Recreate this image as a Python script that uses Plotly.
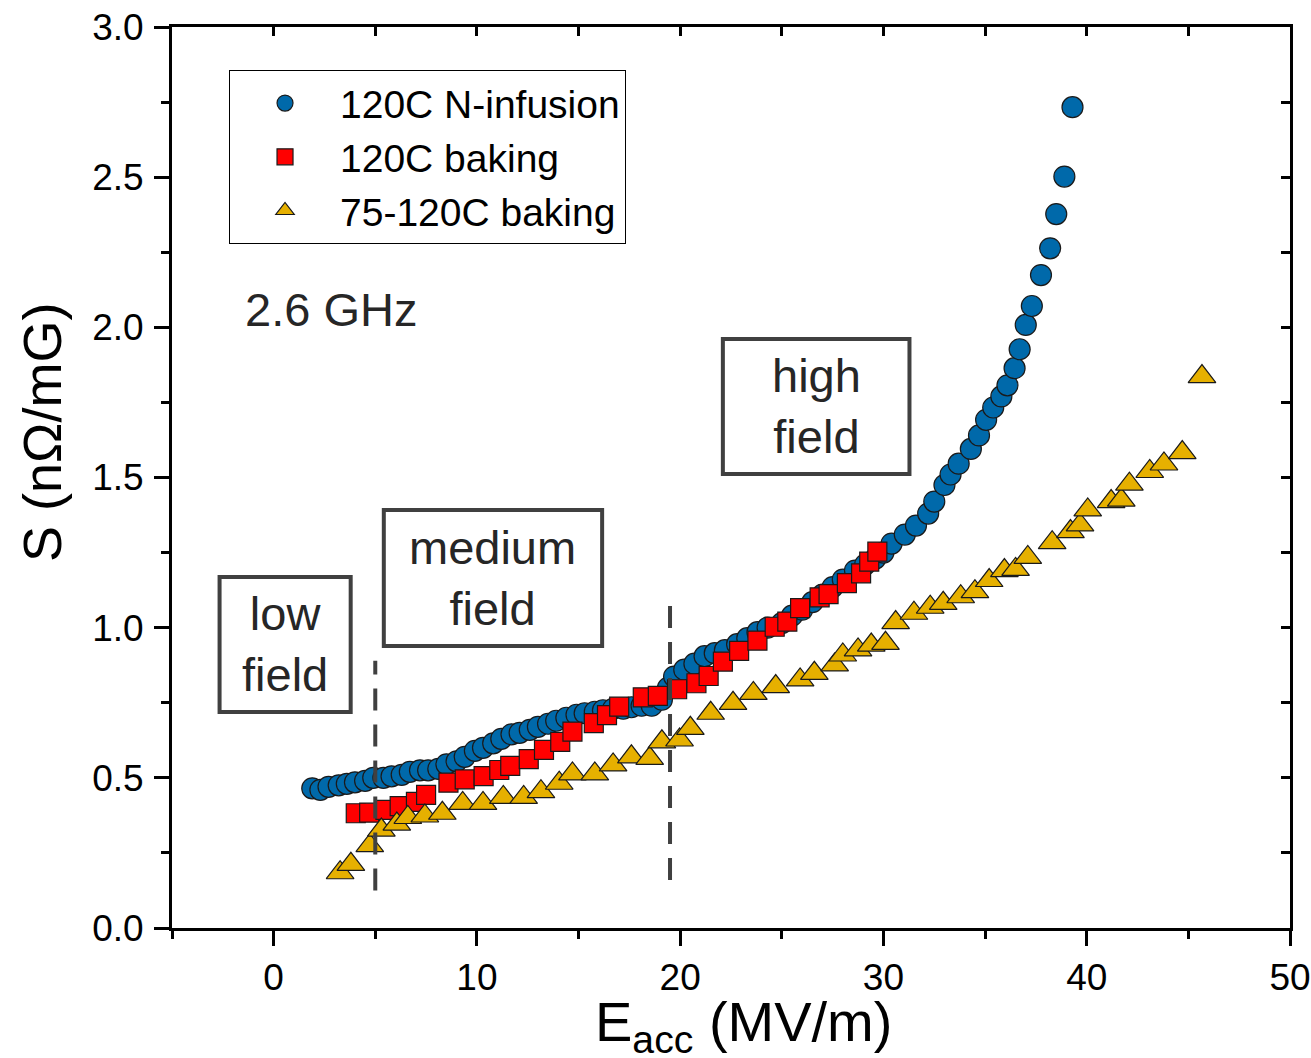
import plotly.graph_objects as go

# ---------------- data ----------------
infusion_E = [1.9, 2.3, 2.7, 3.2, 3.6, 4.0, 4.5, 4.9, 5.4, 5.8, 6.3, 6.7, 7.2, 7.6, 8.1, 8.5,
              9.0, 9.4, 9.9, 10.3, 10.8, 11.2, 11.7, 12.1, 12.6, 13.0, 13.5, 13.9, 14.4, 14.9,
              15.3, 15.8, 16.2, 16.7, 17.2, 17.6, 18.1, 18.6, 19.1, 19.4, 19.7, 20.2, 20.7,
              21.2, 21.7, 22.2, 22.8, 23.3, 23.8, 24.3, 25.0, 25.5, 26.0, 26.5, 27.0, 27.5,
              28.0, 28.6, 29.1, 29.6, 30.0, 30.4, 31.05, 31.6, 32.2, 32.5, 33.0, 33.3, 33.7,
              34.3, 34.7, 35.05, 35.4, 35.8, 36.1, 36.45, 36.7, 37.0, 37.3, 37.75, 38.2, 38.5,
              38.9, 39.3]
infusion_S = [0.465, 0.46, 0.47, 0.475, 0.48, 0.485, 0.49, 0.50, 0.50, 0.505, 0.51, 0.52, 0.525,
              0.525, 0.53, 0.545, 0.555, 0.57, 0.59, 0.60, 0.615, 0.63, 0.645, 0.65, 0.66, 0.67,
              0.68, 0.69, 0.70, 0.71, 0.715, 0.72, 0.725, 0.73, 0.73, 0.735, 0.74, 0.74, 0.76,
              0.80, 0.837, 0.86, 0.88, 0.905, 0.915, 0.925, 0.945, 0.965, 0.985, 1.0, 1.015,
              1.04, 1.06, 1.085, 1.11, 1.135, 1.16, 1.19, 1.21, 1.23, 1.25, 1.28, 1.31, 1.34,
              1.38, 1.42, 1.475, 1.51, 1.546, 1.595, 1.64, 1.692, 1.733, 1.77, 1.807, 1.864,
              1.927, 2.008, 2.071, 2.174, 2.263, 2.377, 2.502, 2.733]

baking_E = [4.04, 4.7, 5.5, 6.2, 7.0, 7.5, 8.6, 9.4, 10.33, 11.1, 11.64, 12.55, 13.3, 14.1,
            14.7, 15.75, 16.4, 17.0, 18.16, 18.9, 19.85, 20.8, 21.4, 22.1, 22.9, 23.8, 24.65,
            25.27, 25.9, 26.86, 27.3, 28.2, 28.9, 29.3, 29.7]
baking_S = [0.382, 0.384, 0.393, 0.406, 0.42, 0.443, 0.484, 0.495, 0.506, 0.526, 0.54, 0.562,
            0.593, 0.62, 0.654, 0.682, 0.709, 0.737, 0.768, 0.773, 0.795, 0.815, 0.839, 0.887,
            0.923, 0.957, 1.003, 1.02, 1.065, 1.101, 1.112, 1.148, 1.181, 1.22, 1.253]

lowbake_E = [3.27, 3.8, 4.73, 5.3, 6.06, 6.6, 7.44, 8.3, 9.3, 10.3, 11.3, 12.3, 13.15, 14.05,
             14.7, 15.8, 16.7, 17.6, 18.5, 19.1, 19.97, 20.5, 21.5, 22.6, 23.6, 24.7, 25.9,
             26.6, 27.6, 28.0, 28.75, 29.4, 30.1, 30.6, 31.5, 32.3, 32.94, 33.8, 34.5, 35.2,
             35.95, 36.5, 37.1, 38.3, 39.2, 39.67, 40.05, 41.2, 41.7, 42.1, 43.1, 43.8, 44.7,
             45.67]
lowbake_S = [0.184, 0.212, 0.274, 0.326, 0.346, 0.368, 0.373, 0.382, 0.415, 0.415, 0.435,
             0.435, 0.454, 0.482, 0.513, 0.513, 0.543, 0.57, 0.565, 0.62, 0.626, 0.665, 0.715,
             0.748, 0.781, 0.804, 0.826, 0.848, 0.876, 0.909, 0.926, 0.942, 0.948, 1.017,
             1.048, 1.068, 1.081, 1.103, 1.12, 1.157, 1.19, 1.194, 1.234, 1.283, 1.32, 1.342,
             1.392, 1.42, 1.425, 1.478, 1.52, 1.545, 1.583, 1.836]

series_names = ["120C N-infusion", "120C baking", "75-120C baking"]
boundaries_E = [5.0, 19.5]
boundary_S = [(0.125, 0.89), (0.16, 1.11)]
region_labels = ["low<br>field", "medium<br>field", "high<br>field"]
region_boxes = [(-2.66, 3.79, 0.719, 1.169), (5.42, 16.16, 0.939, 1.392), (22.1, 31.28, 1.512, 1.961)]
freq_label = "2.6 GHz"
x_title = "E<sub>acc</sub> (MV/m)"
y_title = "S (nΩ/mG)"

x_ticks = [0, 10, 20, 30, 40, 50]
y_ticks = [0.0, 0.5, 1.0, 1.5, 2.0, 2.5, 3.0]

# ---------------- figure ----------------
FONT = "Liberation Sans, Arial, sans-serif"
fig = go.Figure()

fig.add_trace(go.Scatter(x=infusion_E, y=infusion_S, mode="markers", name=series_names[0],
                         legendgroup="a",
                         marker=dict(symbol="circle", size=21, color="#0069AA",
                                     line=dict(color="#1a1a1a", width=1.2))))
fig.add_trace(go.Scatter(x=baking_E, y=baking_S, mode="markers", name=series_names[1],
                         legendgroup="b",
                         marker=dict(symbol="square", size=19, color="#FF0000",
                                     line=dict(color="#1a1a1a", width=1.2))))
fig.add_trace(go.Scatter(x=lowbake_E, y=lowbake_S, mode="markers", name=series_names[2],
                         legendgroup="c",
                         marker=dict(symbol="triangle-up", size=24, color="#E6B000",
                                     line=dict(color="#1a1a1a", width=1.2))))
# invisible trace for mirrored axes
fig.add_trace(go.Scatter(x=[None], y=[None], xaxis="x2", yaxis="y2", showlegend=False,
                         hoverinfo="skip"))

shapes = []
for xb, (y0, y1) in zip(boundaries_E, boundary_S):
    shapes.append(dict(type="line", xref="x", yref="y", x0=xb, x1=xb, y0=y0, y1=y1,
                       line=dict(color="#404040", width=4, dash="22px,14px"), layer="above"))
for (x0, x1, y0, y1) in region_boxes:
    shapes.append(dict(type="rect", xref="x", yref="y", x0=x0, x1=x1, y0=y0, y1=y1,
                       line=dict(color="#404040", width=4), layer="above"))

annotations = []
for lab, (x0, x1, y0, y1) in zip(region_labels, region_boxes):
    annotations.append(dict(x=(x0 + x1) / 2, y=(y0 + y1) / 2, xref="x", yref="y", text=lab,
                            showarrow=False, font=dict(family=FONT, size=47, color="#262626"),
                            align="center", xanchor="center", yanchor="middle"))
annotations.append(dict(x=-1.5, y=2.06, xref="x", yref="y", text=freq_label, showarrow=False,
                        font=dict(family=FONT, size=47, color="#262626"),
                        xanchor="left", yanchor="middle"))
# axis titles
annotations.append(dict(x=-0.1163, y=0.5505, xref="paper", yref="paper", text=y_title,
                        textangle=-90, showarrow=False, xanchor="center", yanchor="middle",
                        font=dict(family=FONT, size=54, color="black")))
annotations.append(dict(x=0.5116, y=-0.108, xref="paper", yref="paper", text=x_title,
                        showarrow=False, xanchor="center", yanchor="middle",
                        font=dict(family=FONT, size=56, color="black")))

axis_common = dict(showline=True, linecolor="black", linewidth=3, showgrid=False,
                   zeroline=False, ticks="outside", tickcolor="black", tickwidth=3,
                   ticklen=15, automargin=False, ticklabeloverflow="allow",
                   tickfont=dict(family=FONT, size=37, color="black"))

fig.update_layout(
    width=1311, height=1058,
    paper_bgcolor="white", plot_bgcolor="white",
    margin=dict(l=172, r=21, t=27, b=130, autoexpand=False),
    font=dict(family=FONT, color="black"),
    shapes=shapes, annotations=annotations,
    xaxis=dict(range=[-5, 50], tickvals=x_ticks, ticktext=[str(v) for v in x_ticks],
               minor=dict(dtick=5, tick0=0, ticks="outside", ticklen=8, tickwidth=3,
                          tickcolor="black"),
               ticklabelstandoff=0,
               **axis_common),
    yaxis=dict(range=[0, 3.0], tickvals=y_ticks, ticktext=[f"{v:.1f}" for v in y_ticks],
               minor=dict(dtick=0.25, tick0=0, ticks="outside", ticklen=8, tickwidth=3,
                          tickcolor="black"),
               ticklabelstandoff=3,
               **axis_common),
    xaxis2=dict(range=[-5, 50], overlaying="x", side="top", anchor="y", showline=True,
                linecolor="black", linewidth=3, showgrid=False, zeroline=False,
                showticklabels=False, ticks="inside", ticklen=9, tickwidth=3,
                tickcolor="black", dtick=5, tick0=0, automargin=False),
    yaxis2=dict(range=[0, 3.0], overlaying="y", side="right", anchor="x", showline=True,
                linecolor="black", linewidth=3, showgrid=False, zeroline=False,
                showticklabels=False, ticks="inside", ticklen=9, tickwidth=3,
                tickcolor="black", dtick=0.25, tick0=0, automargin=False),
    legend=dict(x=0.051, y=0.952, xanchor="left", yanchor="top",
                bgcolor="white", bordercolor="black", borderwidth=1,
                font=dict(family=FONT, size=39, color="black"),
                tracegroupgap=0, itemsizing="trace", itemwidth=100),
    showlegend=True,
)

# remove the default page margin / scrollbars so the figure fills the window exactly
fig.write_html("out.html",
               config={"displayModeBar": False},
               post_script="document.body.style.margin='0';"
                           "document.body.style.overflow='hidden';")
